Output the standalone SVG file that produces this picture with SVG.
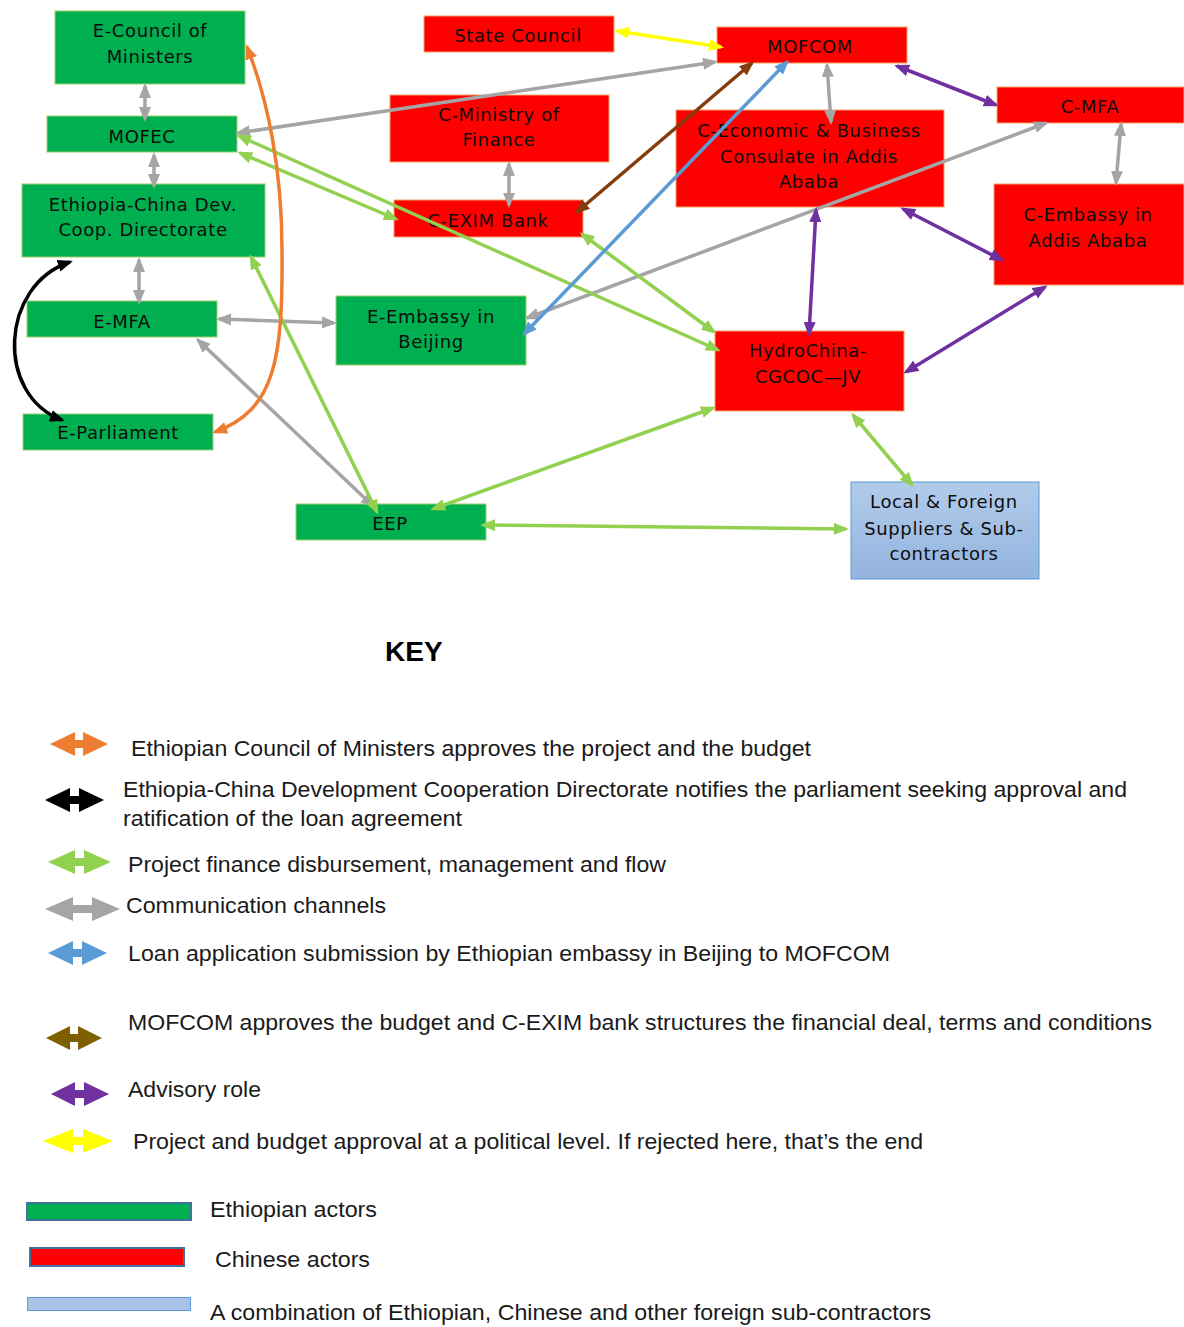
<svg xmlns="http://www.w3.org/2000/svg" width="1184" height="1327" viewBox="0 0 1184 1327">
<style>
.eth{fill:#00B050;stroke:#9ccf6a;stroke-width:1}
.chn{fill:#FF0000;stroke:#f4a460;stroke-width:1}
.mix{fill:url(#blueGrad);stroke:#5B9BD5;stroke-width:1}
.nt{font-family:"DejaVu Sans",Verdana,sans-serif;font-size:18px;fill:#0d0d0d;text-anchor:middle;letter-spacing:0.6px}
.c{fill:none;stroke-width:3.5}
.gray{stroke:#A5A5A5;marker-start:url(#mGray);marker-end:url(#mGray)}
.green{stroke:#92D050;marker-start:url(#mGreen);marker-end:url(#mGreen)}
.blue{stroke:#5B9BD5;marker-start:url(#mBlue);marker-end:url(#mBlue)}
.brown{stroke:#843C0C;marker-start:url(#mBrown);marker-end:url(#mBrown)}
.yellow{stroke:#FFFF00;marker-start:url(#mYellow);marker-end:url(#mYellow)}
.purple{stroke:#7030A0;marker-start:url(#mPurple);marker-end:url(#mPurple)}
.orange{stroke:#ED7D31;marker-start:url(#mOrange);marker-end:url(#mOrange)}
.black{stroke:#000000;marker-start:url(#mBlack);marker-end:url(#mBlack)}
.lt{font-family:"Liberation Sans",Arial,sans-serif;font-size:22px;fill:#1a1a1a}
</style>
<defs>
<linearGradient id="blueGrad" x1="0" y1="0" x2="0" y2="1">
<stop offset="0" stop-color="#b1cbea"/><stop offset="1" stop-color="#93b4df"/>
</linearGradient>
<marker id="mGray" viewBox="0 0 10 8" refX="8" refY="4" markerWidth="4.3" markerHeight="3.5" orient="auto-start-reverse"><path d="M0,0 L10,4 L0,8 z" fill="#A5A5A5"/></marker>
<marker id="mGreen" viewBox="0 0 10 8" refX="8" refY="4" markerWidth="4.3" markerHeight="3.5" orient="auto-start-reverse"><path d="M0,0 L10,4 L0,8 z" fill="#92D050"/></marker>
<marker id="mBlue" viewBox="0 0 10 8" refX="8" refY="4" markerWidth="4.3" markerHeight="3.5" orient="auto-start-reverse"><path d="M0,0 L10,4 L0,8 z" fill="#5B9BD5"/></marker>
<marker id="mBrown" viewBox="0 0 10 8" refX="8" refY="4" markerWidth="4.3" markerHeight="3.5" orient="auto-start-reverse"><path d="M0,0 L10,4 L0,8 z" fill="#843C0C"/></marker>
<marker id="mYellow" viewBox="0 0 10 8" refX="8" refY="4" markerWidth="4.3" markerHeight="3.5" orient="auto-start-reverse"><path d="M0,0 L10,4 L0,8 z" fill="#FFFF00"/></marker>
<marker id="mPurple" viewBox="0 0 10 8" refX="8" refY="4" markerWidth="4.3" markerHeight="3.5" orient="auto-start-reverse"><path d="M0,0 L10,4 L0,8 z" fill="#7030A0"/></marker>
<marker id="mOrange" viewBox="0 0 10 8" refX="8" refY="4" markerWidth="4.3" markerHeight="3.5" orient="auto-start-reverse"><path d="M0,0 L10,4 L0,8 z" fill="#ED7D31"/></marker>
<marker id="mBlack" viewBox="0 0 10 8" refX="8" refY="4" markerWidth="4.3" markerHeight="3.5" orient="auto-start-reverse"><path d="M0,0 L10,4 L0,8 z" fill="#000000"/></marker>
</defs>
<rect width="1184" height="1327" fill="#ffffff"/>

<g id="n-ecouncil"><rect class="eth" x="55" y="11" width="190" height="73"/><text class="nt" x="150" y="37">E-Council of</text><text class="nt" x="150" y="63">Ministers</text></g>
<g id="n-mofec"><rect class="eth" x="47" y="116" width="190" height="36"/><text class="nt" x="142" y="143">MOFEC</text></g>
<g id="n-directorate"><rect class="eth" x="22" y="184" width="243" height="73"/><text class="nt" x="143" y="211">Ethiopia-China Dev.</text><text class="nt" x="143" y="236">Coop. Directorate</text></g>
<g id="n-emfa"><rect class="eth" x="27" y="301" width="190" height="36"/><text class="nt" x="122" y="328">E-MFA</text></g>
<g id="n-eparliament"><rect class="eth" x="23" y="414" width="190" height="36"/><text class="nt" x="118" y="439">E-Parliament</text></g>
<g id="n-eembassy"><rect class="eth" x="336" y="296" width="190" height="69"/><text class="nt" x="431" y="323">E-Embassy in</text><text class="nt" x="431" y="348">Beijing</text></g>
<g id="n-eep"><rect class="eth" x="296" y="504" width="190" height="36"/><text class="nt" x="390" y="530">EEP</text></g>
<g id="n-statecouncil"><rect class="chn" x="424" y="16" width="190" height="36"/><text class="nt" x="518" y="42">State Council</text></g>
<g id="n-mofcom"><rect class="chn" x="717" y="27" width="190" height="36"/><text class="nt" x="810" y="53">MOFCOM</text></g>
<g id="n-cminfin"><rect class="chn" x="390" y="95" width="219" height="67"/><text class="nt" x="499" y="121">C-Ministry of</text><text class="nt" x="499" y="146">Finance</text></g>
<g id="n-cexim"><rect class="chn" x="394" y="200" width="189" height="37"/><text class="nt" x="488" y="227">C-EXIM Bank</text></g>
<g id="n-consulate"><rect class="chn" x="676" y="110" width="268" height="97"/><text class="nt" x="809" y="137">C-Economic &amp; Business</text><text class="nt" x="809" y="163">Consulate in Addis</text><text class="nt" x="809" y="188">Ababa</text></g>
<g id="n-cmfa"><rect class="chn" x="997" y="87" width="187" height="36"/><text class="nt" x="1090" y="113">C-MFA</text></g>
<g id="n-cembassy"><rect class="chn" x="994" y="184" width="190" height="101"/><text class="nt" x="1088" y="221">C-Embassy in</text><text class="nt" x="1088" y="247">Addis Ababa</text></g>
<g id="n-hydrochina"><rect class="chn" x="715" y="331" width="189" height="80"/><text class="nt" x="808" y="357">HydroChina-</text><text class="nt" x="808" y="383">CGCOC—JV</text></g>
<g id="n-local"><rect class="mix" x="851" y="482" width="188" height="97"/><text class="nt" x="944" y="508">Local &amp; Foreign</text><text class="nt" x="944" y="535">Suppliers &amp; Sub-</text><text class="nt" x="944" y="560">contractors</text></g>

<g id="connectors">
<line class="c gray" x1="145" y1="86" x2="145" y2="119"/>
<line class="c gray" x1="154" y1="155" x2="154" y2="186"/>
<line class="c gray" x1="139" y1="260" x2="139" y2="302"/>
<line class="c gray" x1="219" y1="319" x2="334" y2="323"/>
<line class="c gray" x1="198" y1="340" x2="373" y2="506"/>
<line class="c gray" x1="238" y1="133" x2="715" y2="62"/>
<line class="c gray" x1="509" y1="164" x2="509" y2="205"/>
<line class="c gray" x1="827" y1="65" x2="831" y2="122"/>
<line class="c gray" x1="1121" y1="124" x2="1116" y2="183"/>
<line class="c gray" x1="527" y1="318" x2="1046" y2="123"/>
<line class="c green" x1="239" y1="136" x2="718" y2="350"/>
<line class="c green" x1="240" y1="153" x2="396" y2="219"/>
<line class="c green" x1="582" y1="234" x2="714" y2="332"/>
<line class="c green" x1="377" y1="512" x2="251" y2="257"/>
<line class="c green" x1="433" y1="509" x2="713" y2="408"/>
<line class="c green" x1="483" y1="525" x2="846" y2="529"/>
<line class="c green" x1="853" y1="415" x2="912" y2="485"/>
<line class="c blue" x1="524" y1="334" x2="787" y2="62"/>
<line class="c brown" x1="577" y1="212" x2="752" y2="63"/>
<line class="c yellow" x1="617" y1="31" x2="721" y2="47"/>
<line class="c purple" x1="897" y1="66" x2="996" y2="105"/>
<line class="c purple" x1="903" y1="209" x2="1002" y2="260"/>
<line class="c purple" x1="816" y1="210" x2="809" y2="334"/>
<line class="c purple" x1="906" y1="372" x2="1045" y2="287"/>
<path class="c orange" d="M247,47 C268,100 282,170 282,250 C283,360 275,410 215,432"/>
<path class="c black" d="M70,262 C0,285 -5,395 62,420"/>
</g>

<g id="legend">
<text x="385" y="661" font-family="Liberation Sans, Arial, sans-serif" font-size="28" font-weight="bold" fill="#000">KEY</text>
<polygon fill="#ED7D31" points="50,744 75,732 75,740 83,740 83,732 108,744 83,756 83,748 75,748 75,756"/>
<polygon fill="#000000" points="45,800 70,788 70,796 79,796 79,788 104,800 79,812 79,804 70,804 70,812"/>
<polygon fill="#92D050" points="48,862 75,850 75,858 84,858 84,850 111,862 84,874 84,866 75,866 75,874"/>
<polygon fill="#A5A5A5" points="45,909 73,897 73,905 92,905 92,897 120,909 92,921 92,913 73,913 73,921"/>
<polygon fill="#5B9BD5" points="48,953 73,941 73,949 82,949 82,941 107,953 82,965 82,957 73,957 73,965"/>
<polygon fill="#7F6000" points="46,1038 70,1026 70,1034 78,1034 78,1026 102,1038 78,1050 78,1042 70,1042 70,1050"/>
<polygon fill="#7030A0" points="51,1094 75,1082 75,1090 84,1090 84,1082 109,1094 84,1106 84,1098 75,1098 75,1106"/>
<polygon fill="#FFFF00" points="43,1141 73,1129 73,1137 83,1137 83,1129 113,1141 83,1153 83,1145 73,1145 73,1153"/>
<text class="lt" x="131" y="756" textLength="680" lengthAdjust="spacingAndGlyphs">Ethiopian Council of Ministers approves the project and the budget</text>
<text class="lt" x="123" y="797" textLength="1004" lengthAdjust="spacingAndGlyphs">Ethiopia-China Development Cooperation Directorate notifies the parliament seeking approval and</text>
<text class="lt" x="123" y="826" textLength="339" lengthAdjust="spacingAndGlyphs">ratification of the loan agreement</text>
<text class="lt" x="128" y="872" textLength="538" lengthAdjust="spacingAndGlyphs">Project finance disbursement, management and flow</text>
<text class="lt" x="126" y="913" textLength="260" lengthAdjust="spacingAndGlyphs">Communication channels</text>
<text class="lt" x="128" y="961" textLength="762" lengthAdjust="spacingAndGlyphs">Loan application submission by Ethiopian embassy in Beijing to MOFCOM</text>
<text class="lt" x="128" y="1030" textLength="1024" lengthAdjust="spacingAndGlyphs">MOFCOM approves the budget and C-EXIM bank structures the financial deal, terms and conditions</text>
<text class="lt" x="128" y="1097" textLength="133" lengthAdjust="spacingAndGlyphs">Advisory role</text>
<text class="lt" x="133" y="1149" textLength="790" lengthAdjust="spacingAndGlyphs">Project and budget approval at a political level.  If rejected here, that’s the end</text>
<rect x="27" y="1203" width="164" height="17" fill="#00B050" stroke="#41719C" stroke-width="2"/>
<rect x="30" y="1248" width="154" height="18" fill="#FF0000" stroke="#41719C" stroke-width="2"/>
<rect x="27.5" y="1297.5" width="163" height="13" fill="#a9c4e8" stroke="#5B9BD5" stroke-width="1"/>
<text class="lt" x="210" y="1217" textLength="167" lengthAdjust="spacingAndGlyphs">Ethiopian actors</text>
<text class="lt" x="215" y="1267" textLength="155" lengthAdjust="spacingAndGlyphs">Chinese actors</text>
<text class="lt" x="210" y="1320" textLength="721" lengthAdjust="spacingAndGlyphs">A combination of Ethiopian, Chinese and other foreign sub-contractors</text>
</g>
</svg>
